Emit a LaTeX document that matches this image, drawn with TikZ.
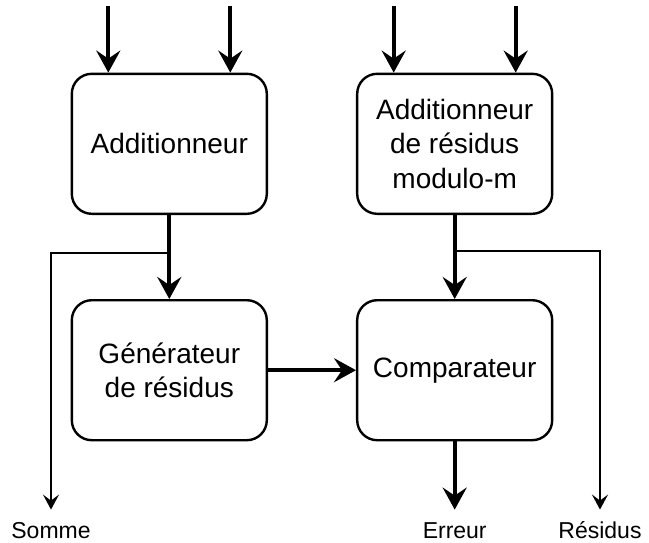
\documentclass[tikz,border=0pt]{standalone}
\usepackage{fontspec}
\setmainfont{Liberation Sans}
\usetikzlibrary{arrows.meta,matrix}

\begin{document}
\begin{tikzpicture}[x=0.5pt, y=-0.5pt,
every node/.style={font=\fontsize{14}{17.25}\selectfont},
bloc/.style={draw, line width=1.2pt, rounded corners=10pt, align=center,
    minimum width=97.5pt, minimum height=70pt, inner sep=2pt},
fort/.style={line width=2pt, -{Stealth[length=11pt,width=12pt,inset=4pt]}},
fin/.style={line width=1pt, -{Stealth[length=7.5pt,width=8pt,inset=3pt]}},
lbl/.style={font=\fontsize{11.5}{14}\selectfont, anchor=base,
    text height=8.5pt, text depth=2.5pt, inner xsep=0pt, inner ysep=5.5pt}
]
\useasboundingbox (0,0) rectangle (649,542);

\matrix (b) [column sep=44pt, row sep=42pt, ampersand replacement=\&] at (312,257) {
\node[bloc] (add) {Additionneur}; \& \node[bloc] (res) {Additionneur\\de résidus\\modulo-m}; \\
\node[bloc] (gen) {Générateur\\de résidus}; \& \node[bloc] (comp) {Comparateur}; \\
};

% sorties
\node[lbl] (somme) at (51,538) {Somme};
\node[lbl] (err) at (comp.south |- 0,538) {Erreur};
\node[lbl] (resid) at (600,538) {Résidus};

% entrees
\foreach \n in {add,res}
  \foreach \s in {-30.5pt,30.5pt}
    \draw[fort] ([xshift=\s,yshift=33.5pt]\n.north) -- ([xshift=\s]\n.north);

\coordinate (j1) at ([yshift=-19pt]add.south);
\coordinate (j2) at ([yshift=-18pt]res.south);

\foreach \i/\j in {add/gen, res/comp, gen/comp, comp/err}
    \draw[fort] (\i) -- (\j);

\draw[fin] (j1) -| (somme);
\draw[fin] (j2) -| (resid);
\end{tikzpicture}
\end{document}
